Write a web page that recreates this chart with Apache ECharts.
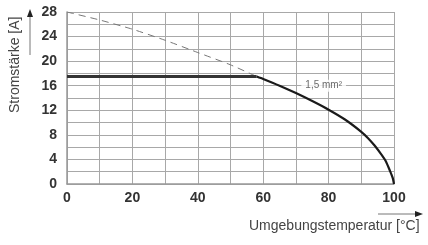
<!DOCTYPE html>
<html>
<head>
<meta charset="utf-8">
<script src="https://cdn.jsdelivr.net/npm/echarts@6/dist/echarts.min.js"></script>
<style>
  html, body { margin: 0; padding: 0; background: #fff; }
  #chart { width: 428px; height: 245px; }
</style>
</head>
<body>
<div id="chart"></div>
<script>
// derating curve
var dashedTemp = [0, 10, 20, 30, 40, 50, 58];
var dashedAmps = [28, 26.7, 25.2, 23.4, 21.4, 19.4, 17.5];

var flatTemp = [0, 58];
var flatAmps = [17.5, 17.5];

var curveTemp = [58, 60, 65, 70, 75, 80, 85, 90, 92, 94, 96, 97.5, 98.8, 99.6, 100];
var curveAmps = [17.5, 17.1, 16.0, 14.8, 13.5, 12.1, 10.5, 8.5, 7.5, 6.3, 4.9, 3.7, 2.1, 1.0, 0];

var xTickLabels = [0, 20, 40, 60, 80, 100];
var yTickLabels = [0, 4, 8, 12, 16, 20, 24, 28];

var curveLabel = '1,5 mm\u00b2';
var curveLabelAt = [78.5, 16];

function pairs(xs, ys) {
  return xs.map(function (x, i) { return [x, ys[i]]; });
}

var chart = echarts.init(document.getElementById('chart'));

var gridColor = '#a8a8a8';
var tickFont = { color: '#333', fontSize: 14, fontWeight: 'bold', fontFamily: 'Liberation Sans, Arial, sans-serif' };

chart.setOption({
  animation: false,
  grid: { left: 67, right: 34, top: 12, bottom: 61 },
  xAxis: {
    type: 'value',
    min: 0, max: 100, interval: 10,
    axisLine: { show: true, lineStyle: { color: '#999', width: 1.5 } },
    axisTick: { show: false },
    splitLine: { show: true, lineStyle: { color: gridColor, width: 1 } },
    axisLabel: Object.assign({
      margin: 7,
      formatter: function (v) { return xTickLabels.indexOf(v) >= 0 ? String(v) : ''; }
    }, tickFont)
  },
  yAxis: {
    type: 'value',
    min: 0, max: 28, interval: 2,
    axisLine: { show: true, lineStyle: { color: '#999', width: 1.5 } },
    axisTick: { show: false },
    splitLine: { show: true, lineStyle: { color: gridColor, width: 1 } },
    axisLabel: Object.assign({
      margin: 10,
      formatter: function (v) { return yTickLabels.indexOf(v) >= 0 ? String(v) : ''; }
    }, tickFont)
  },
  series: [
    {
      type: 'line',
      data: pairs(dashedTemp, dashedAmps),
      showSymbol: false,
      smooth: 0.2,
      lineStyle: { color: '#777', width: 1, type: [7, 5] },
      z: 3
    },
    {
      type: 'line',
      data: pairs(flatTemp, flatAmps),
      showSymbol: false,
      lineStyle: { color: '#333', width: 3 },
      z: 4
    },
    {
      type: 'line',
      data: pairs(curveTemp, curveAmps),
      showSymbol: false,
      smooth: 0.2,
      lineStyle: { color: '#1a1a1a', width: 2.2 },
      z: 4
    },
    {
      type: 'scatter',
      data: [curveLabelAt],
      symbolSize: 0,
      silent: true,
      label: {
        show: true,
        position: 'inside',
        formatter: curveLabel,
        color: '#444',
        fontSize: 10,
        fontFamily: 'Liberation Sans, Arial, sans-serif',
        backgroundColor: '#fff',
        padding: [1, 4]
      },
      z: 5
    }
  ],
  graphic: [
    {
      type: 'text',
      x: 8, y: 113,
      rotation: Math.PI / 2,
      style: {
        text: 'Stromstärke [A]',
        fill: '#444',
        font: '14px Liberation Sans, Arial, sans-serif'
      }
    },
    {
      type: 'line',
      shape: { x1: 30, y1: 55, x2: 30, y2: 16 },
      style: { stroke: '#777', lineWidth: 1 }
    },
    {
      type: 'polygon',
      shape: { points: [[27, 17], [33, 17], [30, 9]] },
      style: { fill: '#222' }
    },
    {
      type: 'text',
      x: 249, y: 219,
      style: {
        text: 'Umgebungstemperatur [°C]',
        fill: '#444',
        font: '14px Liberation Sans, Arial, sans-serif'
      }
    },
    {
      type: 'line',
      shape: { x1: 378, y1: 214, x2: 416, y2: 214 },
      style: { stroke: '#777', lineWidth: 1 }
    },
    {
      type: 'polygon',
      shape: { points: [[415, 211], [415, 217], [423, 214]] },
      style: { fill: '#222' }
    }
  ]
});
</script>
</body>
</html>
